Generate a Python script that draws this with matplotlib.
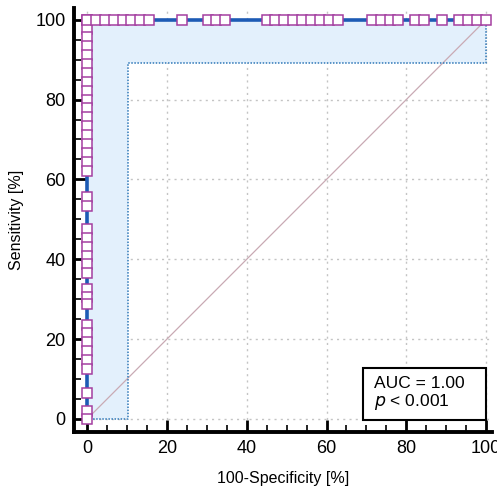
import matplotlib
matplotlib.use("Agg")
import matplotlib.pyplot as plt
from matplotlib.patches import Rectangle
from matplotlib.ticker import MultipleLocator

plt.rcParams["font.family"] = ["Liberation Sans", "DejaVu Sans"]

# ROC curve (empirical) in percent
roc_x = [0, 0, 100]
roc_y = [0, 100, 100]

# lower confidence bound
ci_x = [0, 10.3, 10.3, 100, 100]
ci_y = [0, 0, 89.2, 89.2, 100]

# markers along the left edge (x = 0)
left_marker_y = [100, 97.8, 95.6, 93.3, 91.1, 88.9, 86.7, 84.4, 82.2, 80.0,
                 77.8, 75.6, 73.3, 71.1, 68.9, 66.7, 64.4, 62.2,
                 55.5, 53.3,
                 47.5, 45.3, 43.1, 40.9, 38.7, 36.5,
                 32.6, 30.6, 28.8,
                 23.6, 21.4, 19.2, 17.0, 14.8, 12.6,
                 6.5,
                 2.0, 0.0]

# markers along the top edge (y = 100)
top_marker_x = [0, 2.2, 4.4, 6.7, 8.9, 11.1, 13.3, 15.5,
                23.8,
                30.2, 32.4, 34.6,
                45.0, 47.2, 49.4, 51.6, 53.9, 56.1, 58.3, 60.5, 62.8,
                71.5, 73.6, 75.8, 78.0,
                82.2, 84.4,
                89.0,
                93.3, 95.5, 97.7, 100]

fig = plt.figure(figsize=(4.97, 4.86), dpi=100)
ax = fig.add_axes([0.149, 0.111, 0.841, 0.873])

ax.fill_between([0, 10.3, 10.3, 100], [0, 0, 89.2, 89.2], [100, 100, 100, 100],
                color="#e3f0fc", zorder=1, linewidth=0)

ax.grid(True, which="major", linestyle=(0, (1.5, 3)), color="#c4c4c4", linewidth=1, zorder=0)
ax.set_axisbelow(True)

ax.plot([0, 100], [0, 100], color="#c9aab4", linewidth=0.9, zorder=2)
ax.plot(ci_x, ci_y, color="#2f78b8", linewidth=1.1, linestyle=(0, (1, 1)), zorder=3)
ax.plot(roc_x, roc_y, color="#1d5bb5", linewidth=2.6, zorder=4)

marker_style = dict(linestyle="none", marker="s", markersize=7.4, markerfacecolor="white",
                    markeredgecolor="#a43fa0", markeredgewidth=1.1, zorder=5)
ax.plot([0] * len(left_marker_y), left_marker_y, **marker_style)
ax.plot(top_marker_x, [100] * len(top_marker_x), **marker_style)

ax.set_xlim(-3.3, 101.5)
ax.set_ylim(-3.3, 103)
ax.xaxis.set_major_locator(MultipleLocator(20))
ax.xaxis.set_minor_locator(MultipleLocator(5))
ax.yaxis.set_major_locator(MultipleLocator(20))
ax.yaxis.set_minor_locator(MultipleLocator(5))

for side in ["top", "right"]:
    ax.spines[side].set_visible(False)
for side in ["left", "bottom"]:
    ax.spines[side].set_linewidth(2.8)
    ax.spines[side].set_color("black")

ax.tick_params(which="major", direction="in", length=9, width=2, labelsize=13, pad=6)
ax.tick_params(which="minor", direction="in", length=5, width=1.2)

ax.set_xlabel("100-Specificity [%]", fontsize=11.5, labelpad=10)
ax.set_ylabel("Sensitivity [%]", fontsize=11.5, labelpad=8)

ax.add_patch(Rectangle((69.2, -0.2), 30.8, 13.0, facecolor="white", edgecolor="black",
                       linewidth=1.5, zorder=6))
ax.text(72.0, 6.3, "AUC = 1.00\n$p$ < 0.001", fontsize=12.5, va="center", ha="left",
        linespacing=1.05, zorder=7)

fig.savefig("out.png", dpi=100)
